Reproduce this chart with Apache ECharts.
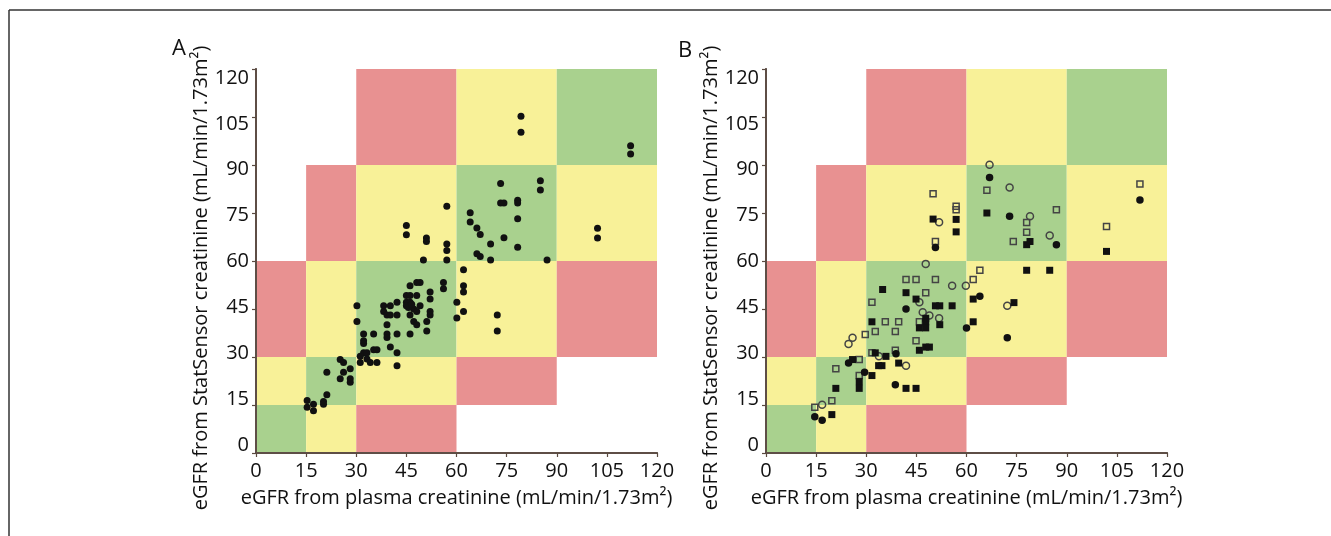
<!DOCTYPE html>
<html>
<head>
<meta charset="utf-8">
<script src="https://cdn.jsdelivr.net/npm/echarts@6/dist/echarts.min.js"></script>
<style>html,body{margin:0;padding:0;background:#fff}#c{width:1331px;height:536px}</style>
</head>
<body>
<div id="c"></div>
<script>
// ---- data ----
const tickValues = [0, 15, 30, 45, 60, 75, 90, 105, 120];
const bandEdges = [0, 15, 30, 60, 90, 120];
// agreement level per cell, rows = StatSensor bands (bottom to top), cols = plasma bands (left to right)
const cellLevels = [
  ['agree', 'minor', 'major', null, null],
  ['minor', 'agree', 'minor', 'major', null],
  ['major', 'minor', 'agree', 'minor', 'major'],
  [null, 'major', 'minor', 'agree', 'minor'],
  [null, null, 'major', 'minor', 'agree']
];
const xTitle = 'eGFR from plasma creatinine (mL/min/1.73m²)';
const yTitle = 'eGFR from StatSensor creatinine (mL/min/1.73m²)';

const panelA = [
  [79.3,105.2],[79.3,100.2],[112.1,96],[112.1,93.4],[85.1,85.1],[85.1,82.2],[73.2,84.2],[73.2,78.1],
  [74.2,78.1],[78.3,79],[78.3,78.1],[78.3,73.2],[74.2,67.3],[78.3,64.3],[64.1,75.1],[64.1,72.2],
  [66.1,70.3],[67.1,68.3],[70.2,65.3],[66.1,62.3],[67.1,61.4],[70.2,60.3],[87.1,60.3],[102.2,70.2],
  [102.2,67.2],[57.1,77.1],[57.1,65.3],[57.1,63.3],[57.1,60.3],[50.1,60.3],[51,67.2],[51,66.1],
  [45,71.1],[45,68.2],[62.1,57.3],[62.1,52.3],[62.1,50.3],[62.1,44.2],[60.1,47.1],[60.1,42.2],
  [56.1,53.3],[56.1,51.3],[72.2,43.1],[72.2,38.1],[52.1,50.3],[52.1,48.1],[52.1,44.2],[52.1,43.1],
  [51.1,41.1],[51.1,38.1],[49.1,53.3],[48.1,53.3],[46.1,52.3],[45,49.2],[46.1,49.2],[48.1,49.2],
  [45,47.1],[46.1,47.1],[45,46],[46.1,46],[47.2,45],[49.1,46],[48.1,44.2],[46.1,43.1],[47.2,41.1],
  [48.1,40.1],[46.1,37.2],[42.2,47.1],[42.2,43.1],[42.2,37.2],[42.2,31.3],[42.2,27.3],[38.2,46],
  [40.2,46],[38.2,44.2],[39.2,43.1],[40.2,43.1],[39.2,40.1],[39.2,37.2],[39.2,36.1],[40.2,33.1],
  [30.2,46],[30.2,41.1],[32.2,37.2],[35.2,37.2],[32.2,35.1],[32.2,34.2],[32.2,31.3],[33.2,31.3],
  [35.2,32.3],[36.2,32.3],[31.2,28.3],[33.2,29.4],[34.2,28.3],[36.2,28.3],[31.2,30.2],[25.2,29.2],
  [26.2,28.3],[26.2,25.2],[28.2,26.3],[25.2,23.2],[28.2,23.2],[28.2,22.1],[21.2,25.2],[21.2,18.2],
  [20.2,16.1],[20.2,15.2],[15.3,16.4],[15.3,14.3],[17.2,15.2],[17.2,13.2],[45.6,45.5],[46.6,46.5]
];

const bFilledSquare = [
  [66.1,75],[78,65.1],[79,66.1],[78,57.1],[84.9,57.1],[101.9,63],[50,73.1],[56.9,73],[56.9,69.1],
  [62,48.1],[62,41],[34.9,51.1],[41.9,50.1],[44.9,48.1],[50.7,46],[52,46],[55.7,46],[47.8,42.1],
  [47.8,41],[45.9,39.1],[47.8,39.1],[52,40.1],[31.7,41],[45.9,32.1],[47.8,33.1],[48.9,33.1],
  [32.7,31.3],[35.9,30.2],[33.7,27.3],[34.7,27.3],[39.7,28.1],[41.9,20.2],[44.9,20.2],[31.7,24.2],
  [25.9,29.2],[27.9,22.3],[27.9,20.2],[20.9,20.2],[19.7,12],[74.2,47]
];
const bFilledCircle = [
  [66.9,86.1],[72.9,74],[86.9,65.1],[111.9,79.1],[50.7,64.2],[64,49],[60,39.1],[41.9,45],
  [38.9,31],[38.7,21.3],[29.5,25.2],[24.7,28.1],[14.6,11.3],[16.8,10.2],[72.2,36]
];
const bOpenSquare = [
  [66.1,82.1],[78,72],[78,69],[74,66.1],[86.9,76],[111.9,84.1],[101.9,70.8],[50,81],[50.7,66.1],
  [56.9,77.1],[56.9,76],[41.9,54.2],[44.9,54.2],[50.7,54.2],[62,54.2],[64,57.1],[47.8,50.1],
  [45.9,41],[31.7,47.1],[35.7,41],[39.7,41],[32.7,38],[38.7,38],[44.9,35.1],[31.7,31.3],[38.7,32.1],
  [29.7,37],[27.9,29.2],[27.9,24.2],[20.9,26.3],[19.7,16.3],[14.6,14.3]
];
const bOpenCircle = [
  [66.9,90.1],[72.9,83],[79,74],[84.9,68],[51.8,72.1],[47.8,59.1],[55.7,52.3],[59.8,52.3],
  [45.9,47.1],[46.9,44],[48.9,43],[51.8,42.1],[33.8,30.2],[41.9,27.3],[24.7,34.1],[25.9,36],
  [16.8,15.1],[72.2,46]
];

// ---- styles ----
const levelColor = { agree: '#a9d18e', minor: '#f8f198', major: '#e89191' };
const FONT = 'Open Sans';
const TXT = '#111';
const grids = [
  { left: 256, top: 69, width: 401, height: 384 },
  { left: 766, top: 69, width: 401, height: 384 }
];

const cellData = [];
for (let r = 0; r < cellLevels.length; r++) {
  for (let c = 0; c < cellLevels[r].length; c++) {
    const lv = cellLevels[r][c];
    if (lv) cellData.push([bandEdges[c], bandEdges[c + 1], bandEdges[r], bandEdges[r + 1], lv]);
  }
}

const xAxes = [], yAxes = [];
grids.forEach((g, i) => {
  xAxes.push({
    gridIndex: i, type: 'value', min: 0, max: 120, interval: 15, position: 'bottom', z: 10,
    axisLine: { show: true, lineStyle: { color: '#222', width: 1.5 } },
    axisTick: { show: true, length: 4, lineStyle: { color: '#5a4a40', width: 1.2 } },
    axisLabel: { color: TXT, fontSize: 20, fontFamily: FONT, margin: 8 },
    splitLine: { show: false },
    name: xTitle, nameLocation: 'middle', nameGap: 35,
    nameTextStyle: { color: TXT, fontSize: 20, fontFamily: FONT }
  });
  xAxes.push({
    gridIndex: i, type: 'value', min: 0, max: 120, position: 'top', z: 10,
    axisLine: { show: true, lineStyle: { color: '#5e4e46', width: 2 } },
    axisTick: { show: false }, axisLabel: { show: false }, splitLine: { show: false }
  });
  yAxes.push({
    gridIndex: i, type: 'value', min: 0, max: 120, interval: 15, position: 'left', z: 10,
    axisLine: { show: true, lineStyle: { color: '#222', width: 1.5 } },
    axisTick: { show: true, length: 4, lineStyle: { color: '#5a4a40', width: 1.2 } },
    axisLabel: { show: false },
    splitLine: { show: false },
    name: yTitle, nameLocation: 'middle', nameGap: 45,
    nameTextStyle: { color: TXT, fontSize: 20, fontFamily: FONT, padding: [0, 34, 0, 0] }
  });
  yAxes.push({
    gridIndex: i, type: 'value', min: 0, max: 120, position: 'right', z: 10,
    axisLine: { show: true, lineStyle: { color: '#5e4e46', width: 2 } },
    axisTick: { show: false }, axisLabel: { show: false }, splitLine: { show: false }
  });
  // label-only axis (labels sit slightly inset toward the middle, as in the original)
  yAxes.push({
    gridIndex: i, type: 'value', min: -2.62, max: 122.94, position: 'left', z: 10,
    axisLine: { show: false }, axisTick: { show: false }, splitLine: { show: false },
    axisLabel: { show: true, customValues: tickValues, color: TXT, fontSize: 20, fontFamily: FONT, margin: 7 }
  });
});

function cellSeries(i) {
  return {
    type: 'custom', xAxisIndex: i * 2, yAxisIndex: i * 3, silent: true, z: 1,
    encode: { x: [0, 1], y: [2, 3] },
    data: cellData,
    renderItem: function (params, api) {
      const p0 = api.coord([api.value(0), api.value(3)]);
      const p1 = api.coord([api.value(1), api.value(2)]);
      const lv = cellData[params.dataIndex][4];
      return { type: 'rect', shape: { x: p0[0], y: p0[1], width: p1[0] - p0[0], height: p1[1] - p0[1] },
        style: { fill: levelColor[lv] } };
    }
  };
}

const series = [
  cellSeries(0), cellSeries(1),
  { type: 'scatter', xAxisIndex: 0, yAxisIndex: 0, data: panelA, symbol: 'circle', symbolSize: 7, z: 3,
    itemStyle: { color: '#111', opacity: 1 } },
  { type: 'scatter', xAxisIndex: 2, yAxisIndex: 3, data: bOpenSquare, symbol: 'rect', symbolSize: 6, z: 3,
    itemStyle: { color: 'rgba(255,255,255,0)', borderColor: '#444', borderWidth: 1.5, opacity: 1 } },
  { type: 'scatter', xAxisIndex: 2, yAxisIndex: 3, data: bOpenCircle, symbol: 'circle', symbolSize: 7, z: 3,
    itemStyle: { color: 'rgba(255,255,255,0)', borderColor: '#444', borderWidth: 1.5, opacity: 1 } },
  { type: 'scatter', xAxisIndex: 2, yAxisIndex: 3, data: bFilledSquare, symbol: 'rect', symbolSize: 7, z: 4,
    itemStyle: { color: '#111', opacity: 1 } },
  { type: 'scatter', xAxisIndex: 2, yAxisIndex: 3, data: bFilledCircle, symbol: 'circle', symbolSize: 7.5, z: 4,
    itemStyle: { color: '#111', opacity: 1 } }
];

const chart = echarts.init(document.getElementById('c'), null, { renderer: 'canvas' });
chart.setOption({
  animation: false,
  backgroundColor: '#fff',
  title: [
    { text: 'A', left: 167, top: 33, textStyle: { fontSize: 22, fontWeight: 'normal', color: TXT, fontFamily: FONT } },
    { text: 'B', left: 673, top: 35, textStyle: { fontSize: 22, fontWeight: 'normal', color: TXT, fontFamily: FONT } }
  ],
  grid: grids,
  xAxis: xAxes,
  yAxis: yAxes,
  series: series,
  graphic: [
    { type: 'line', shape: { x1: 9, y1: 10, x2: 1331, y2: 10 }, style: { stroke: '#333', lineWidth: 1.5 } },
    { type: 'line', shape: { x1: 9, y1: 10, x2: 9, y2: 536 }, style: { stroke: '#333', lineWidth: 1.5 } }
  ]
});
</script>
</body>
</html>
